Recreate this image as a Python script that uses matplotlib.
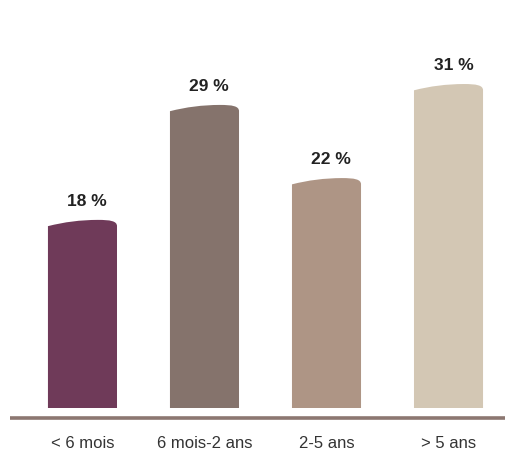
import matplotlib.pyplot as plt
from matplotlib.path import Path
from matplotlib.patches import PathPatch

categories = ["< 6 mois", "6 mois-2 ans", "2-5 ans", "> 5 ans"]
values = [18, 29, 22, 31]
value_labels = ["18 %", "29 %", "22 %", "31 %"]
colors = ["#6f3a59", "#85736c", "#ae9585", "#d3c7b4"]

plt.rcParams["font.family"] = ["Liberation Sans", "DejaVu Sans"]


def dome_bar(x, v, width=0.566, dl=0.6, dr=0.6):
    # bar with a slightly skewed, rounded top
    x0, x1 = x - width / 2, x + width / 2
    peak = x0 + 0.72 * width
    verts = [
        (x0, 0), (x0, v - dl),
        (x0 + 0.35 * width, v), (peak, v),
        (x0 + 0.9 * width, v), (x1, v - 0.1), (x1, v - dr),
        (x1, 0), (x0, 0),
    ]
    codes = [Path.MOVETO, Path.LINETO,
             Path.CURVE3, Path.CURVE3,
             Path.CURVE4, Path.CURVE4, Path.CURVE4,
             Path.LINETO, Path.CLOSEPOLY]
    return Path(verts, codes)


fig = plt.figure(figsize=(5.05, 4.5), dpi=100)
ax = fig.add_axes([10 / 505, 20 / 450, 495 / 505, 430 / 450])

for i, (v, c) in enumerate(zip(values, colors)):
    ax.add_patch(PathPatch(dome_bar(i, v), facecolor=c, edgecolor="none"))
    ax.text(i + 0.04, v + 1.8, value_labels[i], ha="center", va="center",
            fontsize=12.5, fontweight="bold", color="#222222")

ax.axhline(-0.91, color="#8c7771", linewidth=2.6)

ax.set_xlim(-0.594, 3.463)
ax.set_ylim(-2.105, 39.04)
ax.set_xticks(range(len(categories)))
ax.set_xticklabels(categories, fontsize=12, color="#333333")
ax.tick_params(axis="x", length=0, pad=4)
ax.set_yticks([])
for s in ax.spines.values():
    s.set_visible(False)

fig.savefig("out.png", dpi=100)
